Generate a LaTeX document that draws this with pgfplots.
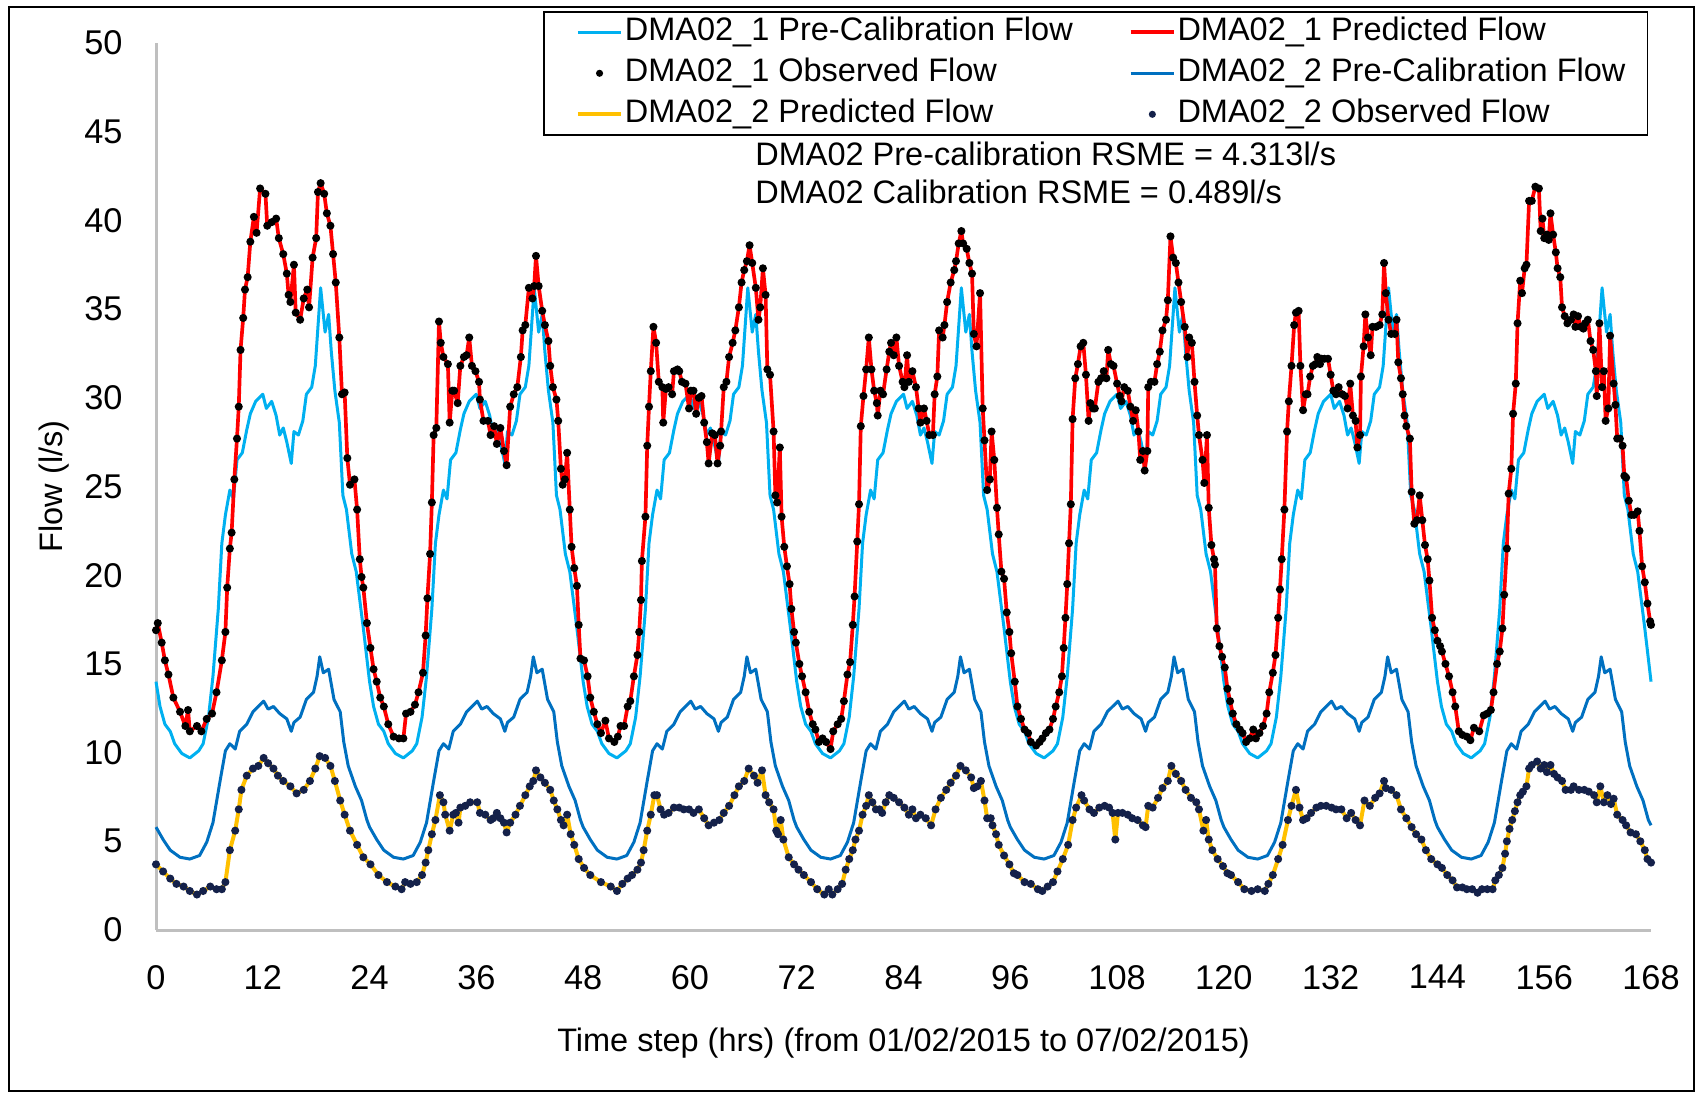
\documentclass[border=0pt]{standalone}
\usepackage{fontspec}
\setmainfont{Liberation Sans}
\usepackage{pgfplots}
\usepackage{pgfplotstable}
\pgfplotsset{compat=1.18}
\definecolor{lblue}{HTML}{00B0F0}
\definecolor{mblue}{HTML}{0070C0}
\definecolor{gold}{HTML}{FFC000}
\definecolor{navy}{HTML}{14214A}
\definecolor{axgray}{HTML}{BFBFBF}

% DMA02_1 predicted flow (observed points follow it closely)
\pgfplotstableread[row sep=\\]{
t v\\
0 16.9\\ 0.2 17.3\\ 0.64 16.2\\ 1.0 15.2\\ 1.4 14.4\\ 1.95 13.1\\ 2.7 12.3\\ 3.3 11.5\\ 3.6 12.4\\ 3.8 11.2\\ 4.6 11.5\\ 5.1 11.2\\ 5.7 11.9\\ 6.3 12.2\\ 6.8 13.4\\ 7.4 15.2\\ 7.8 16.8\\ 8.0 19.3\\ 8.3 21.5\\ 8.5 22.4\\ 8.8 25.4\\ 9.1 27.7\\ 9.3 29.5\\ 9.5 32.7\\ 9.8 34.5\\ 10.0 36.1\\ 10.3 36.8\\ 10.6 38.8\\ 11.0 40.2\\ 11.3 39.3\\ 11.7 41.8\\ 12.3 41.5\\ 12.5 39.7\\ 13.0 39.9\\ 13.5 40.1\\ 13.8 39.0\\ 14.3 38.1\\ 14.7 37.0\\ 14.9 35.8\\ 15.1 35.4\\ 15.5 37.5\\ 15.7 34.8\\ 16.2 34.4\\ 16.6 35.6\\ 17.0 36.1\\ 17.2 35.1\\ 17.6 37.9\\ 18.0 39.0\\ 18.2 41.6\\ 18.5 42.1\\ 18.9 41.5\\ 19.2 40.4\\ 19.6 39.7\\ 19.9 38.1\\ 20.2 36.5\\ 20.6 33.4\\ 20.9 30.2\\ 21.2 30.3\\ 21.5 26.6\\ 21.8 25.1\\ 22.3 25.4\\ 22.6 23.7\\ 22.9 20.9\\ 23.1 19.9\\ 23.3 19.3\\ 23.7 17.3\\
24.1 15.9\\ 24.45 14.7\\ 24.8 14.0\\ 25.2 13.1\\ 25.6 12.6\\ 26.1 11.6\\ 26.7 10.9\\ 27.3 10.8\\ 27.8 10.8\\ 28.1 12.2\\ 28.6 12.3\\ 29.1 12.7\\ 29.5 13.4\\ 30.0 14.5\\ 30.3 16.6\\ 30.5 18.7\\ 30.8 21.2\\ 31.0 24.1\\ 31.2 27.9\\ 31.5 28.3\\ 31.8 34.3\\ 32.0 33.1\\ 32.3 32.3\\ 32.8 31.9\\ 33.0 28.6\\ 33.3 30.4\\ 33.5 30.4\\ 33.9 29.7\\ 34.2 31.8\\ 34.6 32.3\\ 34.9 32.4\\ 35.2 33.4\\ 35.5 31.8\\ 35.9 31.5\\ 36.3 30.9\\ 36.4 29.9\\ 36.8 28.7\\ 37.3 28.7\\ 37.6 27.9\\ 38.0 28.4\\ 38.3 27.4\\ 38.7 28.3\\ 39.1 27.0\\ 39.4 26.2\\ 39.8 29.5\\ 40.2 30.2\\ 40.6 30.6\\ 41.0 32.3\\ 41.2 33.8\\ 41.5 34.1\\ 41.9 36.2\\ 42.3 35.6\\ 42.5 36.3\\ 42.7 38.0\\ 43.0 36.3\\ 43.4 34.9\\ 43.7 34.1\\ 44.1 33.2\\ 44.3 31.8\\ 44.6 30.6\\ 45.0 29.9\\ 45.2 28.7\\ 45.5 26.0\\ 45.7 25.1\\ 45.95 25.4\\ 46.2 26.9\\ 46.5 23.7\\ 46.7 21.6\\ 47.0 20.4\\ 47.3 19.4\\ 47.5 17.2\\ 47.7 15.3\\ 48.1 15.2\\ 48.5 14.3\\
48.8 13.1\\ 49.2 12.3\\ 49.6 11.6\\ 50.0 11.1\\ 50.5 11.8\\ 50.9 10.8\\ 51.5 10.6\\ 51.9 10.9\\ 52.2 11.5\\ 52.6 11.5\\ 53.0 12.6\\ 53.3 12.9\\ 53.7 14.3\\ 54.1 15.5\\ 54.3 16.8\\ 54.5 18.6\\ 54.6 20.8\\ 55.0 23.3\\ 55.2 27.3\\ 55.4 29.5\\ 55.6 31.5\\ 55.9 34.0\\ 56.2 33.1\\ 56.5 30.9\\ 56.9 30.6\\ 57.0 28.6\\ 57.3 30.5\\ 57.6 30.6\\ 58.0 30.2\\ 58.2 31.5\\ 58.6 31.6\\ 58.8 31.5\\ 59.1 30.9\\ 59.5 30.8\\ 59.9 29.4\\ 60.1 30.4\\ 60.4 30.4\\ 60.7 29.1\\ 61.0 30.0\\ 61.3 30.1\\ 61.6 28.6\\ 61.9 27.5\\ 62.1 26.3\\ 62.5 28.0\\ 62.8 27.9\\ 63.1 26.3\\ 63.4 27.3\\ 63.5 28.1\\ 63.8 30.6\\ 64.1 30.9\\ 64.4 32.3\\ 64.8 33.1\\ 65.1 33.8\\ 65.5 35.1\\ 65.8 36.5\\ 66.1 37.2\\ 66.4 37.7\\ 66.7 38.6\\ 67.0 37.6\\ 67.4 36.2\\ 67.7 34.4\\ 67.9 35.1\\ 68.2 37.3\\ 68.5 35.8\\ 68.7 31.6\\ 69.0 31.3\\ 69.4 28.1\\ 69.6 24.5\\ 69.8 24.1\\ 70.1 27.2\\ 70.3 23.3\\ 70.6 21.6\\ 70.9 20.5\\ 71.2 19.5\\ 71.4 18.1\\ 71.7 16.8\\ 71.9 16.2\\ 72.3 15.0\\
72.6 14.3\\ 73.0 13.4\\ 73.4 12.3\\ 73.8 11.6\\ 74.1 11.3\\ 74.5 10.6\\ 74.9 10.8\\ 75.3 10.6\\ 75.8 10.2\\ 76.1 11.2\\ 76.6 11.6\\ 77.0 11.9\\ 77.3 12.9\\ 77.7 14.4\\ 78.0 15.1\\ 78.3 17.2\\ 78.5 18.8\\ 78.8 21.9\\ 79.0 24.0\\ 79.2 28.4\\ 79.5 30.1\\ 79.8 31.6\\ 80.1 33.4\\ 80.4 31.6\\ 80.7 30.4\\ 81.0 29.7\\ 81.1 29.0\\ 81.4 30.4\\ 81.7 30.2\\ 82.1 31.6\\ 82.4 32.6\\ 82.6 33.1\\ 82.9 32.4\\ 83.2 33.4\\ 83.5 31.8\\ 83.9 30.9\\ 84.1 30.6\\ 84.4 32.4\\ 84.6 30.9\\ 85.0 31.5\\ 85.4 30.6\\ 85.7 29.4\\ 85.9 28.6\\ 86.3 29.4\\ 86.6 28.7\\ 86.9 27.9\\ 87.3 27.9\\ 87.5 30.2\\ 87.8 31.2\\ 88.0 33.8\\ 88.4 33.4\\ 88.6 34.1\\ 88.9 35.4\\ 89.3 36.5\\ 89.7 37.2\\ 89.9 37.7\\ 90.2 38.7\\ 90.5 39.4\\ 90.7 38.7\\ 91.1 38.4\\ 91.4 37.6\\ 91.7 37.0\\ 91.9 33.6\\ 92.2 32.9\\ 92.6 35.9\\ 92.9 29.4\\ 93.1 27.6\\ 93.4 24.8\\ 93.7 25.4\\ 93.9 28.1\\ 94.2 26.5\\ 94.5 23.8\\ 94.7 22.3\\ 95.0 20.2\\ 95.3 19.8\\ 95.6 17.9\\ 95.9 16.8\\ 96.1 15.6\\ 96.5 14.0\\
96.8 12.6\\ 97.2 11.9\\ 97.6 11.3\\ 98.0 11.1\\ 98.3 10.6\\ 98.9 10.4\\ 99.3 10.6\\ 99.6 10.8\\ 100.0 11.1\\ 100.4 11.3\\ 100.8 11.9\\ 101.1 12.6\\ 101.5 13.4\\ 101.8 14.3\\ 102.0 15.9\\ 102.2 17.6\\ 102.4 19.5\\ 102.6 21.8\\ 102.8 24.0\\ 103.0 28.8\\ 103.3 31.1\\ 103.6 31.9\\ 103.9 32.9\\ 104.2 33.1\\ 104.5 31.3\\ 104.8 28.7\\ 105.0 29.7\\ 105.3 29.4\\ 105.5 29.4\\ 105.9 30.9\\ 106.2 31.1\\ 106.5 31.5\\ 106.8 31.1\\ 107.0 32.7\\ 107.3 31.9\\ 107.6 31.8\\ 108.0 30.8\\ 108.3 30.1\\ 108.5 29.8\\ 108.8 30.6\\ 109.2 30.4\\ 109.5 29.5\\ 109.8 28.7\\ 110.1 29.3\\ 110.4 28.1\\ 110.6 26.5\\ 110.9 27.0\\ 111.1 25.9\\ 111.4 27.0\\ 111.5 30.6\\ 111.8 30.9\\ 112.2 30.9\\ 112.5 31.9\\ 112.8 32.6\\ 113.1 33.8\\ 113.5 34.4\\ 113.7 35.5\\ 114.0 39.1\\ 114.3 37.9\\ 114.6 37.6\\ 114.9 36.5\\ 115.2 35.4\\ 115.6 34.0\\ 115.9 32.3\\ 116.1 33.4\\ 116.4 33.1\\ 116.7 30.9\\ 117.0 29.0\\ 117.2 27.9\\ 117.6 26.5\\ 117.8 25.2\\ 118.1 27.9\\ 118.3 23.8\\ 118.6 21.7\\ 118.9 20.9\\ 119.0 20.6\\ 119.2 17.0\\ 119.5 16.0\\ 119.8 15.4\\ 120.1 14.8\\ 120.4 13.6\\
120.7 12.9\\ 121.0 12.2\\ 121.4 11.6\\ 121.8 11.3\\ 122.1 11.1\\ 122.5 10.6\\ 122.9 10.8\\ 123.3 11.3\\ 123.6 10.8\\ 124.0 11.1\\ 124.4 11.5\\ 124.8 12.2\\ 125.1 13.4\\ 125.5 14.5\\ 125.8 15.5\\ 126.1 17.6\\ 126.3 19.2\\ 126.5 20.9\\ 126.8 23.7\\ 127.1 28.1\\ 127.3 29.8\\ 127.6 31.8\\ 127.9 34.1\\ 128.1 34.8\\ 128.4 34.9\\ 128.6 31.8\\ 128.9 29.3\\ 129.2 30.2\\ 129.4 30.2\\ 129.7 31.2\\ 130.0 31.8\\ 130.3 31.9\\ 130.5 32.3\\ 130.8 31.9\\ 131.0 32.2\\ 131.3 32.2\\ 131.7 32.2\\ 132.0 31.3\\ 132.3 30.4\\ 132.6 30.2\\ 132.9 30.6\\ 133.3 30.2\\ 133.6 30.1\\ 133.9 29.4\\ 134.2 30.8\\ 134.5 29.0\\ 134.8 28.7\\ 135.0 27.2\\ 135.3 27.9\\ 135.4 31.2\\ 135.7 32.9\\ 135.9 34.7\\ 136.2 33.4\\ 136.5 32.4\\ 136.7 34.0\\ 137.1 34.0\\ 137.5 34.1\\ 137.8 34.7\\ 138.0 37.6\\ 138.2 35.9\\ 138.5 34.4\\ 138.8 33.6\\ 139.2 33.6\\ 139.4 34.4\\ 139.6 32.0\\ 139.9 31.1\\ 140.1 30.2\\ 140.3 29.0\\ 140.5 28.4\\ 140.9 27.7\\ 141.1 24.7\\ 141.4 22.9\\ 141.7 23.1\\ 142.0 24.5\\ 142.3 23.1\\ 142.6 21.7\\ 142.9 20.9\\ 143.1 19.7\\ 143.4 17.6\\ 143.7 16.9\\ 144.0 16.3\\ 144.3 16.0\\
144.5 15.7\\ 144.9 15.0\\ 145.3 14.3\\ 145.7 13.4\\ 146.0 12.6\\ 146.4 11.2\\ 146.8 11.0\\ 147.3 10.9\\ 147.7 10.7\\ 148.1 11.4\\ 148.7 11.2\\ 149.2 12.1\\ 149.6 12.2\\ 150.0 12.4\\ 150.3 13.4\\ 150.7 15.0\\ 151.0 15.7\\ 151.3 17.0\\ 151.5 18.9\\ 151.8 21.5\\ 152.0 24.6\\ 152.3 26.0\\ 152.5 29.1\\ 152.8 30.8\\ 153.0 34.2\\ 153.3 36.6\\ 153.5 35.9\\ 153.8 37.3\\ 154.0 37.5\\ 154.3 41.1\\ 154.6 41.1\\ 155.0 41.9\\ 155.4 41.8\\ 155.6 39.4\\ 155.8 40.1\\ 156.0 39.0\\ 156.3 39.2\\ 156.5 38.9\\ 156.7 40.4\\ 157.0 39.2\\ 157.3 38.2\\ 157.5 37.3\\ 157.8 36.8\\ 158.0 35.1\\ 158.3 34.6\\ 158.6 34.2\\ 159.0 34.4\\ 159.3 34.7\\ 159.5 34.0\\ 159.8 34.6\\ 160.1 34.0\\ 160.4 33.9\\ 160.6 34.2\\ 160.9 34.4\\ 161.2 33.2\\ 161.5 32.7\\ 161.8 31.5\\ 161.9 30.1\\ 162.2 34.2\\ 162.5 30.6\\ 162.7 31.5\\ 162.9 28.7\\ 163.2 29.4\\ 163.4 33.5\\ 163.8 30.8\\ 164.0 29.6\\ 164.2 27.7\\ 164.5 27.7\\ 164.8 27.3\\ 165.0 25.6\\ 165.2 25.5\\ 165.5 24.2\\ 165.8 23.4\\ 166.1 23.4\\ 166.5 23.6\\ 166.7 22.5\\ 167.0 20.5\\ 167.3 19.6\\ 167.6 18.4\\ 167.9 17.4\\ 168.0 17.2\\
}\dmaone

% DMA02_2 predicted flow (observed points follow it closely)
\pgfplotstableread[row sep=\\]{
t v\\
0 3.7\\ 0.8 3.3\\ 1.6 2.9\\ 2.3 2.6\\ 3.1 2.45\\ 3.8 2.2\\ 4.6 2.0\\ 5.3 2.2\\ 6.1 2.45\\ 6.8 2.3\\ 7.4 2.3\\ 7.8 2.7\\ 8.3 4.5\\ 8.9 5.6\\ 9.3 6.8\\ 9.6 7.9\\ 10.2 8.7\\ 10.9 9.1\\ 11.5 9.25\\ 12.1 9.7\\ 12.6 9.4\\ 13.2 9.1\\ 13.7 8.7\\ 14.3 8.4\\ 15.1 8.1\\ 15.8 7.7\\ 16.6 7.9\\ 17.3 8.4\\ 17.9 9.1\\ 18.4 9.8\\ 19.0 9.7\\ 19.6 9.25\\ 20.1 8.4\\ 20.7 7.3\\ 21.2 6.5\\ 21.8 5.6\\ 22.6 4.8\\ 23.3 4.1\\ 24.1 3.7\\
25.0 3.1\\ 25.95 2.7\\ 26.9 2.45\\ 27.6 2.3\\ 28.0 2.7\\ 28.6 2.6\\ 29.3 2.7\\ 29.9 3.1\\ 30.3 3.8\\ 30.6 4.5\\ 31.0 5.4\\ 31.4 6.2\\ 31.9 7.6\\ 32.3 7.2\\ 32.5 6.5\\ 33.0 5.6\\ 33.4 6.5\\ 33.7 6.6\\ 34.0 6.05\\ 34.2 6.9\\ 34.75 7.0\\ 35.3 7.2\\ 36.1 7.2\\ 36.4 6.6\\ 37.0 6.5\\ 37.6 6.2\\ 37.9 6.3\\ 38.3 6.6\\ 38.7 6.3\\ 39.1 6.05\\ 39.4 5.5\\ 39.8 6.05\\ 40.4 6.5\\ 40.9 7.0\\ 41.5 7.6\\ 42.0 8.1\\ 42.4 8.4\\ 42.7 9.0\\ 43.2 8.6\\ 43.7 8.3\\ 44.3 7.9\\ 44.7 7.3\\ 45.1 6.8\\ 45.5 6.2\\ 45.8 5.9\\ 46.2 6.5\\ 46.6 5.4\\ 47.0 4.8\\ 47.5 4.0\\ 48.1 3.5\\
48.8 3.1\\ 50.0 2.7\\ 51.1 2.45\\ 51.8 2.2\\ 52.4 2.6\\ 53.0 2.9\\ 53.5 3.1\\ 54.1 3.4\\ 54.5 3.8\\ 54.8 4.5\\ 55.2 5.6\\ 55.6 6.5\\ 56.0 7.6\\ 56.3 7.6\\ 56.7 6.8\\ 57.1 6.5\\ 57.6 6.6\\ 58.2 6.9\\ 58.8 6.9\\ 59.3 6.8\\ 59.9 6.8\\ 60.4 6.6\\ 61.0 6.8\\ 61.6 6.3\\ 62.1 5.9\\ 62.7 6.05\\ 63.3 6.2\\ 63.8 6.6\\ 64.4 7.0\\ 65.0 7.6\\ 65.5 8.1\\ 66.1 8.4\\ 66.6 9.1\\ 67.2 8.7\\ 67.6 8.3\\ 68.1 9.0\\ 68.5 7.6\\ 68.9 7.2\\ 69.4 6.8\\ 69.7 5.6\\ 69.9 5.4\\ 70.2 6.2\\ 70.5 5.1\\ 71.1 4.1\\ 71.7 3.7\\ 72.2 3.4\\
72.8 3.1\\ 73.6 2.7\\ 74.3 2.3\\ 75.1 2.0\\ 75.6 2.3\\ 76.0 2.0\\ 76.6 2.3\\ 77.1 2.6\\ 77.5 3.4\\ 77.9 4.0\\ 78.3 4.5\\ 78.6 5.1\\ 79.0 5.6\\ 79.4 6.5\\ 79.8 7.0\\ 80.1 7.6\\ 80.5 7.2\\ 80.9 6.8\\ 81.3 6.8\\ 81.6 6.6\\ 82.0 7.2\\ 82.4 7.6\\ 82.9 7.45\\ 83.5 7.2\\ 84.1 6.9\\ 84.6 6.5\\ 85.0 6.8\\ 85.4 6.3\\ 85.9 6.5\\ 86.5 6.3\\ 87.1 5.9\\ 87.6 6.8\\ 88.2 7.45\\ 88.8 7.9\\ 89.3 8.3\\ 89.9 8.7\\ 90.4 9.25\\ 91.0 9.0\\ 91.6 8.6\\ 91.9 8.0\\ 92.3 8.1\\ 92.7 8.4\\ 93.1 7.3\\ 93.4 6.3\\ 93.8 6.3\\ 94.0 5.9\\ 94.4 5.4\\ 94.7 4.8\\ 95.3 4.2\\ 95.9 3.7\\ 96.4 3.2\\
96.8 3.1\\ 97.6 2.7\\ 98.3 2.6\\ 99.1 2.3\\ 99.6 2.2\\ 100.2 2.45\\ 100.8 2.7\\ 101.3 3.3\\ 101.9 4.0\\ 102.5 4.8\\ 103.0 6.2\\ 103.4 6.9\\ 104.0 7.6\\ 104.3 7.3\\ 104.9 6.8\\ 105.4 6.6\\ 106.0 6.9\\ 106.6 7.0\\ 107.1 6.9\\ 107.5 6.6\\ 107.8 5.1\\ 108.1 6.6\\ 108.6 6.6\\ 109.2 6.5\\ 109.7 6.3\\ 110.3 6.2\\ 110.9 5.9\\ 111.2 5.8\\ 111.5 7.0\\ 112.0 6.9\\ 112.6 7.45\\ 113.1 8.0\\ 113.7 8.4\\ 114.1 9.25\\ 114.6 8.8\\ 115.2 8.4\\ 115.7 7.9\\ 116.3 7.45\\ 116.9 7.2\\ 117.2 6.8\\ 117.7 5.6\\ 118.0 6.2\\ 118.3 5.1\\ 118.7 4.5\\ 119.3 4.0\\ 119.9 3.6\\ 120.4 3.2\\
120.8 3.1\\ 121.6 2.7\\ 122.3 2.3\\ 123.1 2.2\\ 123.8 2.3\\ 124.6 2.2\\ 125.0 2.6\\ 125.5 3.1\\ 126.1 4.0\\ 126.6 4.8\\ 127.2 6.2\\ 127.6 7.0\\ 128.1 7.9\\ 128.5 6.9\\ 128.9 6.2\\ 129.3 6.3\\ 129.8 6.6\\ 130.4 6.9\\ 130.9 7.0\\ 131.5 7.0\\ 132.1 6.9\\ 132.6 6.8\\ 133.2 6.8\\ 133.8 6.3\\ 134.3 6.6\\ 134.8 6.2\\ 135.3 5.9\\ 135.8 7.3\\ 136.4 7.0\\ 137.0 7.45\\ 137.5 7.7\\ 138.0 8.4\\ 138.2 8.0\\ 138.8 7.9\\ 139.4 7.6\\ 139.9 6.8\\ 140.5 6.3\\ 141.1 5.8\\ 141.6 5.4\\ 142.2 5.1\\ 142.7 4.5\\ 143.3 4.0\\ 144.0 3.7\\
144.5 3.5\\ 145.1 3.1\\ 145.7 2.8\\ 146.2 2.4\\ 146.8 2.4\\ 147.3 2.3\\ 147.9 2.3\\ 148.5 2.1\\ 149.0 2.3\\ 149.6 2.3\\ 150.2 2.3\\ 150.5 2.8\\ 150.9 3.1\\ 151.3 3.5\\ 151.6 4.3\\ 151.8 5.0\\ 152.1 5.7\\ 152.4 6.2\\ 152.7 6.7\\ 153.0 7.2\\ 153.3 7.6\\ 153.6 7.8\\ 154.0 8.1\\ 154.3 9.1\\ 154.6 9.3\\ 155.2 9.5\\ 155.6 9.1\\ 156.0 9.3\\ 156.3 8.9\\ 156.7 9.3\\ 157.1 8.8\\ 157.5 8.6\\ 158.0 8.4\\ 158.4 7.9\\ 159.0 7.9\\ 159.3 8.1\\ 159.9 7.9\\ 160.5 7.9\\ 161.0 7.8\\ 161.6 7.6\\ 161.9 7.2\\ 162.3 8.1\\ 162.7 7.2\\ 163.1 7.6\\ 163.5 7.1\\ 163.8 7.4\\ 164.2 6.5\\ 164.8 6.2\\ 165.2 5.9\\ 165.7 5.5\\ 166.3 5.4\\ 166.8 5.0\\ 167.3 4.5\\ 167.6 4.0\\ 168.0 3.8\\
}\dmatwo

\pgfplotsset{
  lineleg/.style={legend image code/.code={\draw[opacity=0] (0pt,0pt) -- (16pt,0pt); \draw[##1] (3pt,0pt) -- (16pt,0pt);}},
  dotleg/.style={legend image code/.code={\draw[opacity=0] (0pt,0pt) -- (16pt,0pt); \draw[##1, mark size=0.8pt] plot coordinates {(9.5pt,0pt)};}},
}

\begin{document}
\begin{tikzpicture}
\path (0pt,0pt) rectangle (510pt,-328.5pt);
\draw[line width=0.6pt] (2.8pt,-2.1pt) rectangle (508.2pt,-327.3pt);
\begin{axis}[
  at={(46.8pt,-279pt)}, anchor=south west,
  scale only axis, width=448.5pt, height=266.1pt,
  xmin=0, xmax=168, ymin=0, ymax=50,
  xtick={0,12,...,168}, ytick={0,5,...,50},
  axis x line*=bottom, axis y line*=left,
  axis line style={draw=axgray, line width=0.9pt},
  major tick length=0pt,
  tick style={draw=none},
  /pgf/number format/assume math mode=true,
  ticklabel style={font=\fontsize{10.3}{12}\selectfont},
  yticklabel style={xshift=-6.5pt},
  xticklabel style={yshift=-7pt},
  xlabel={Time step (hrs) (from 01/02/2015 to 07/02/2015)},
  ylabel={Flow (l/s)},
  every axis x label/.style={at={(axis description cs:0.5,-0.1274)}, anchor=center, font=\fontsize{9.75}{11.7}\selectfont},
  every axis y label/.style={at={(axis description cs:-0.0682,0.5)}, anchor=center, rotate=90, font=\fontsize{9.75}{11.7}\selectfont},
  legend columns=2,
  legend cell align=left,
  legend style={
    at={(axis description cs:0.2589,1.0361)}, anchor=north west,
    draw=black, line width=0.5pt, fill=white,
    inner xsep=6.6pt, inner ysep=1.5pt,
    row sep=3pt,
    font=\fontsize{9.75}{11.7}\selectfont,
    nodes={inner sep=0pt, text height=7.2pt, text depth=2.1pt},
    /tikz/every odd column/.append style={column sep=0.5pt},
    /tikz/every even column/.append style={column sep=13.8pt},
  },
  clip=false,
]
\addplot[lblue, line width=0.9pt, line join=round, lineleg] coordinates {
(0,14.0)(0.45,12.6)(1,11.6)(1.6,11.2)(2.1,10.5)(2.9,9.95)(3.8,9.7)(4.8,10.1)(5.3,10.5)(5.9,12.0)(6.4,14.3)(7,18.1)(7.4,21.8)(7.8,23.4)(8.3,24.8)(8.7,24.3)(9.1,26.5)(9.7,26.9)(10.2,28.2)(10.6,29.1)(11.2,29.8)(12,30.2)(12.4,29.4)(13,29.8)(13.5,29.0)(13.9,27.9)(14.3,28.3)(14.7,27.5)(15.2,26.3)(15.5,28.1)(16,27.9)(16.5,28.7)(16.9,30.2)(17.5,30.6)(17.9,31.8)(18.2,34.0)(18.5,36.2)(19,33.7)(19.4,34.7)(19.7,32.6)(20.1,30.4)(20.6,28.6)(21,24.5)(21.4,23.7)(22,21.2)(22.5,20.2)(23.3,17.0)
(24,14.0)(24.45,12.6)(25,11.6)(25.6,11.2)(26.1,10.5)(26.9,9.95)(27.8,9.7)(28.8,10.1)(29.3,10.5)(29.9,12.0)(30.4,14.3)(31,18.1)(31.4,21.8)(31.8,23.4)(32.3,24.8)(32.7,24.3)(33.1,26.5)(33.7,26.9)(34.2,28.2)(34.6,29.1)(35.2,29.8)(36,30.2)(36.4,29.4)(37,29.8)(37.5,29.0)(37.9,27.9)(38.3,28.3)(38.7,27.5)(39.2,26.3)(39.5,28.1)(40,27.9)(40.5,28.7)(40.9,30.2)(41.5,30.6)(41.9,31.8)(42.2,34.0)(42.5,36.2)(43,33.7)(43.4,34.7)(43.7,32.6)(44.1,30.4)(44.6,28.6)(45,24.5)(45.4,23.7)(46,21.2)(46.5,20.2)(47.3,17.0)
(48,14.0)(48.45,12.6)(49,11.6)(49.6,11.2)(50.1,10.5)(50.9,9.95)(51.8,9.7)(52.8,10.1)(53.3,10.5)(53.9,12.0)(54.4,14.3)(55,18.1)(55.4,21.8)(55.8,23.4)(56.3,24.8)(56.7,24.3)(57.1,26.5)(57.7,26.9)(58.2,28.2)(58.6,29.1)(59.2,29.8)(60,30.2)(60.4,29.4)(61,29.8)(61.5,29.0)(61.9,27.9)(62.3,28.3)(62.7,27.5)(63.2,26.3)(63.5,28.1)(64,27.9)(64.5,28.7)(64.9,30.2)(65.5,30.6)(65.9,31.8)(66.2,34.0)(66.5,36.2)(67,33.7)(67.4,34.7)(67.7,32.6)(68.1,30.4)(68.6,28.6)(69,24.5)(69.4,23.7)(70,21.2)(70.5,20.2)(71.3,17.0)
(72,14.0)(72.45,12.6)(73,11.6)(73.6,11.2)(74.1,10.5)(74.9,9.95)(75.8,9.7)(76.8,10.1)(77.3,10.5)(77.9,12.0)(78.4,14.3)(79,18.1)(79.4,21.8)(79.8,23.4)(80.3,24.8)(80.7,24.3)(81.1,26.5)(81.7,26.9)(82.2,28.2)(82.6,29.1)(83.2,29.8)(84,30.2)(84.4,29.4)(85,29.8)(85.5,29.0)(85.9,27.9)(86.3,28.3)(86.7,27.5)(87.2,26.3)(87.5,28.1)(88,27.9)(88.5,28.7)(88.9,30.2)(89.5,30.6)(89.9,31.8)(90.2,34.0)(90.5,36.2)(91,33.7)(91.4,34.7)(91.7,32.6)(92.1,30.4)(92.6,28.6)(93,24.5)(93.4,23.7)(94,21.2)(94.5,20.2)(95.3,17.0)
(96,14.0)(96.45,12.6)(97,11.6)(97.6,11.2)(98.1,10.5)(98.9,9.95)(99.8,9.7)(100.8,10.1)(101.3,10.5)(101.9,12.0)(102.4,14.3)(103,18.1)(103.4,21.8)(103.8,23.4)(104.3,24.8)(104.7,24.3)(105.1,26.5)(105.7,26.9)(106.2,28.2)(106.6,29.1)(107.2,29.8)(108,30.2)(108.4,29.4)(109,29.8)(109.5,29.0)(109.9,27.9)(110.3,28.3)(110.7,27.5)(111.2,26.3)(111.5,28.1)(112,27.9)(112.5,28.7)(112.9,30.2)(113.5,30.6)(113.9,31.8)(114.2,34.0)(114.5,36.2)(115,33.7)(115.4,34.7)(115.7,32.6)(116.1,30.4)(116.6,28.6)(117,24.5)(117.4,23.7)(118,21.2)(118.5,20.2)(119.3,17.0)
(120,14.0)(120.45,12.6)(121,11.6)(121.6,11.2)(122.1,10.5)(122.9,9.95)(123.8,9.7)(124.8,10.1)(125.3,10.5)(125.9,12.0)(126.4,14.3)(127,18.1)(127.4,21.8)(127.8,23.4)(128.3,24.8)(128.7,24.3)(129.1,26.5)(129.7,26.9)(130.2,28.2)(130.6,29.1)(131.2,29.8)(132,30.2)(132.4,29.4)(133,29.8)(133.5,29.0)(133.9,27.9)(134.3,28.3)(134.7,27.5)(135.2,26.3)(135.5,28.1)(136,27.9)(136.5,28.7)(136.9,30.2)(137.5,30.6)(137.9,31.8)(138.2,34.0)(138.5,36.2)(139,33.7)(139.4,34.7)(139.7,32.6)(140.1,30.4)(140.6,28.6)(141,24.5)(141.4,23.7)(142,21.2)(142.5,20.2)(143.3,17.0)
(144,14.0)(144.45,12.6)(145,11.6)(145.6,11.2)(146.1,10.5)(146.9,9.95)(147.8,9.7)(148.8,10.1)(149.3,10.5)(149.9,12.0)(150.4,14.3)(151,18.1)(151.4,21.8)(151.8,23.4)(152.3,24.8)(152.7,24.3)(153.1,26.5)(153.7,26.9)(154.2,28.2)(154.6,29.1)(155.2,29.8)(156,30.2)(156.4,29.4)(157,29.8)(157.5,29.0)(157.9,27.9)(158.3,28.3)(158.7,27.5)(159.2,26.3)(159.5,28.1)(160,27.9)(160.5,28.7)(160.9,30.2)(161.5,30.6)(161.9,31.8)(162.2,34.0)(162.5,36.2)(163,33.7)(163.4,34.7)(163.7,32.6)(164.1,30.4)(164.6,28.6)(165,24.5)(165.4,23.7)(166,21.2)(166.5,20.2)(167.3,17.0)(168,14.0)
};
\addlegendentry{DMA02\_1 Pre-Calibration Flow}
\addplot[red, line width=1.1pt, line join=round, lineleg] table[x=t, y=v] {\dmaone};
\addlegendentry{DMA02\_1 Predicted Flow}
\addplot[only marks, mark=*, mark size=1pt, black, dotleg] table[x=t, y=v] {\dmaone};
\addlegendentry{DMA02\_1 Observed Flow}
\addplot[mblue, line width=0.9pt, line join=round, lineleg] coordinates {
(0,5.8)(0.8,5.1)(1.6,4.5)(2.7,4.1)(3.8,4.0)(4.9,4.2)(5.7,4.95)(6.4,6.05)(7.2,8.4)(7.8,10.1)(8.3,10.5)(8.9,10.2)(9.4,11.2)(10.2,11.6)(10.9,12.3)(12.1,12.9)(12.6,12.45)(13.2,12.6)(13.9,12.2)(14.7,11.9)(15.2,11.2)(15.5,11.7)(16.2,12.0)(16.9,13.0)(17.7,13.4)(18.1,14.3)(18.4,15.4)(18.8,14.5)(19.4,14.7)(20,13.0)(20.7,12.3)(21.1,10.6)(21.6,9.25)(22.4,8.1)(23.1,7.3)(23.7,6.2)
(24,5.8)(24.8,5.1)(25.6,4.5)(26.7,4.1)(27.8,4.0)(28.9,4.2)(29.7,4.95)(30.4,6.05)(31.2,8.4)(31.8,10.1)(32.3,10.5)(32.9,10.2)(33.4,11.2)(34.2,11.6)(34.9,12.3)(36.1,12.9)(36.6,12.45)(37.2,12.6)(37.9,12.2)(38.7,11.9)(39.2,11.2)(39.5,11.7)(40.2,12.0)(40.9,13.0)(41.7,13.4)(42.1,14.3)(42.4,15.4)(42.8,14.5)(43.4,14.7)(44,13.0)(44.7,12.3)(45.1,10.6)(45.6,9.25)(46.4,8.1)(47.1,7.3)(47.7,6.2)
(48,5.8)(48.8,5.1)(49.6,4.5)(50.7,4.1)(51.8,4.0)(52.9,4.2)(53.7,4.95)(54.4,6.05)(55.2,8.4)(55.8,10.1)(56.3,10.5)(56.9,10.2)(57.4,11.2)(58.2,11.6)(58.9,12.3)(60.1,12.9)(60.6,12.45)(61.2,12.6)(61.9,12.2)(62.7,11.9)(63.2,11.2)(63.5,11.7)(64.2,12.0)(64.9,13.0)(65.7,13.4)(66.1,14.3)(66.4,15.4)(66.8,14.5)(67.4,14.7)(68,13.0)(68.7,12.3)(69.1,10.6)(69.6,9.25)(70.4,8.1)(71.1,7.3)(71.7,6.2)
(72,5.8)(72.8,5.1)(73.6,4.5)(74.7,4.1)(75.8,4.0)(76.9,4.2)(77.7,4.95)(78.4,6.05)(79.2,8.4)(79.8,10.1)(80.3,10.5)(80.9,10.2)(81.4,11.2)(82.2,11.6)(82.9,12.3)(84.1,12.9)(84.6,12.45)(85.2,12.6)(85.9,12.2)(86.7,11.9)(87.2,11.2)(87.5,11.7)(88.2,12.0)(88.9,13.0)(89.7,13.4)(90.1,14.3)(90.4,15.4)(90.8,14.5)(91.4,14.7)(92,13.0)(92.7,12.3)(93.1,10.6)(93.6,9.25)(94.4,8.1)(95.1,7.3)(95.7,6.2)
(96,5.8)(96.8,5.1)(97.6,4.5)(98.7,4.1)(99.8,4.0)(100.9,4.2)(101.7,4.95)(102.4,6.05)(103.2,8.4)(103.8,10.1)(104.3,10.5)(104.9,10.2)(105.4,11.2)(106.2,11.6)(106.9,12.3)(108.1,12.9)(108.6,12.45)(109.2,12.6)(109.9,12.2)(110.7,11.9)(111.2,11.2)(111.5,11.7)(112.2,12.0)(112.9,13.0)(113.7,13.4)(114.1,14.3)(114.4,15.4)(114.8,14.5)(115.4,14.7)(116,13.0)(116.7,12.3)(117.1,10.6)(117.6,9.25)(118.4,8.1)(119.1,7.3)(119.7,6.2)
(120,5.8)(120.8,5.1)(121.6,4.5)(122.7,4.1)(123.8,4.0)(124.9,4.2)(125.7,4.95)(126.4,6.05)(127.2,8.4)(127.8,10.1)(128.3,10.5)(128.9,10.2)(129.4,11.2)(130.2,11.6)(130.9,12.3)(132.1,12.9)(132.6,12.45)(133.2,12.6)(133.9,12.2)(134.7,11.9)(135.2,11.2)(135.5,11.7)(136.2,12.0)(136.9,13.0)(137.7,13.4)(138.1,14.3)(138.4,15.4)(138.8,14.5)(139.4,14.7)(140,13.0)(140.7,12.3)(141.1,10.6)(141.6,9.25)(142.4,8.1)(143.1,7.3)(143.7,6.2)
(144,5.8)(144.8,5.1)(145.6,4.5)(146.7,4.1)(147.8,4.0)(148.9,4.2)(149.7,4.95)(150.4,6.05)(151.2,8.4)(151.8,10.1)(152.3,10.5)(152.9,10.2)(153.4,11.2)(154.2,11.6)(154.9,12.3)(156.1,12.9)(156.6,12.45)(157.2,12.6)(157.9,12.2)(158.7,11.9)(159.2,11.2)(159.5,11.7)(160.2,12.0)(160.9,13.0)(161.7,13.4)(162.1,14.3)(162.4,15.4)(162.8,14.5)(163.4,14.7)(164,13.0)(164.7,12.3)(165.1,10.6)(165.6,9.25)(166.4,8.1)(167.1,7.3)(167.7,6.2)(168,5.9)
};
\addlegendentry{DMA02\_2 Pre-Calibration Flow}
\addplot[gold, line width=1.2pt, line join=round, lineleg] table[x=t, y=v] {\dmatwo};
\addlegendentry{DMA02\_2 Predicted Flow}
\addplot[only marks, mark=*, mark size=1pt, navy, dotleg] table[x=t, y=v] {\dmatwo};
\addlegendentry{DMA02\_2 Observed Flow}
\end{axis}
\node[anchor=base west, inner sep=0pt, font=\fontsize{9.75}{11.7}\selectfont] at (226.4pt,-49.7pt) {DMA02 Pre-calibration RSME = 4.313l/s};
\node[anchor=base west, inner sep=0pt, font=\fontsize{9.75}{11.7}\selectfont] at (226.4pt,-61.1pt) {DMA02 Calibration RSME = 0.489l/s};
\end{tikzpicture}
\end{document}
